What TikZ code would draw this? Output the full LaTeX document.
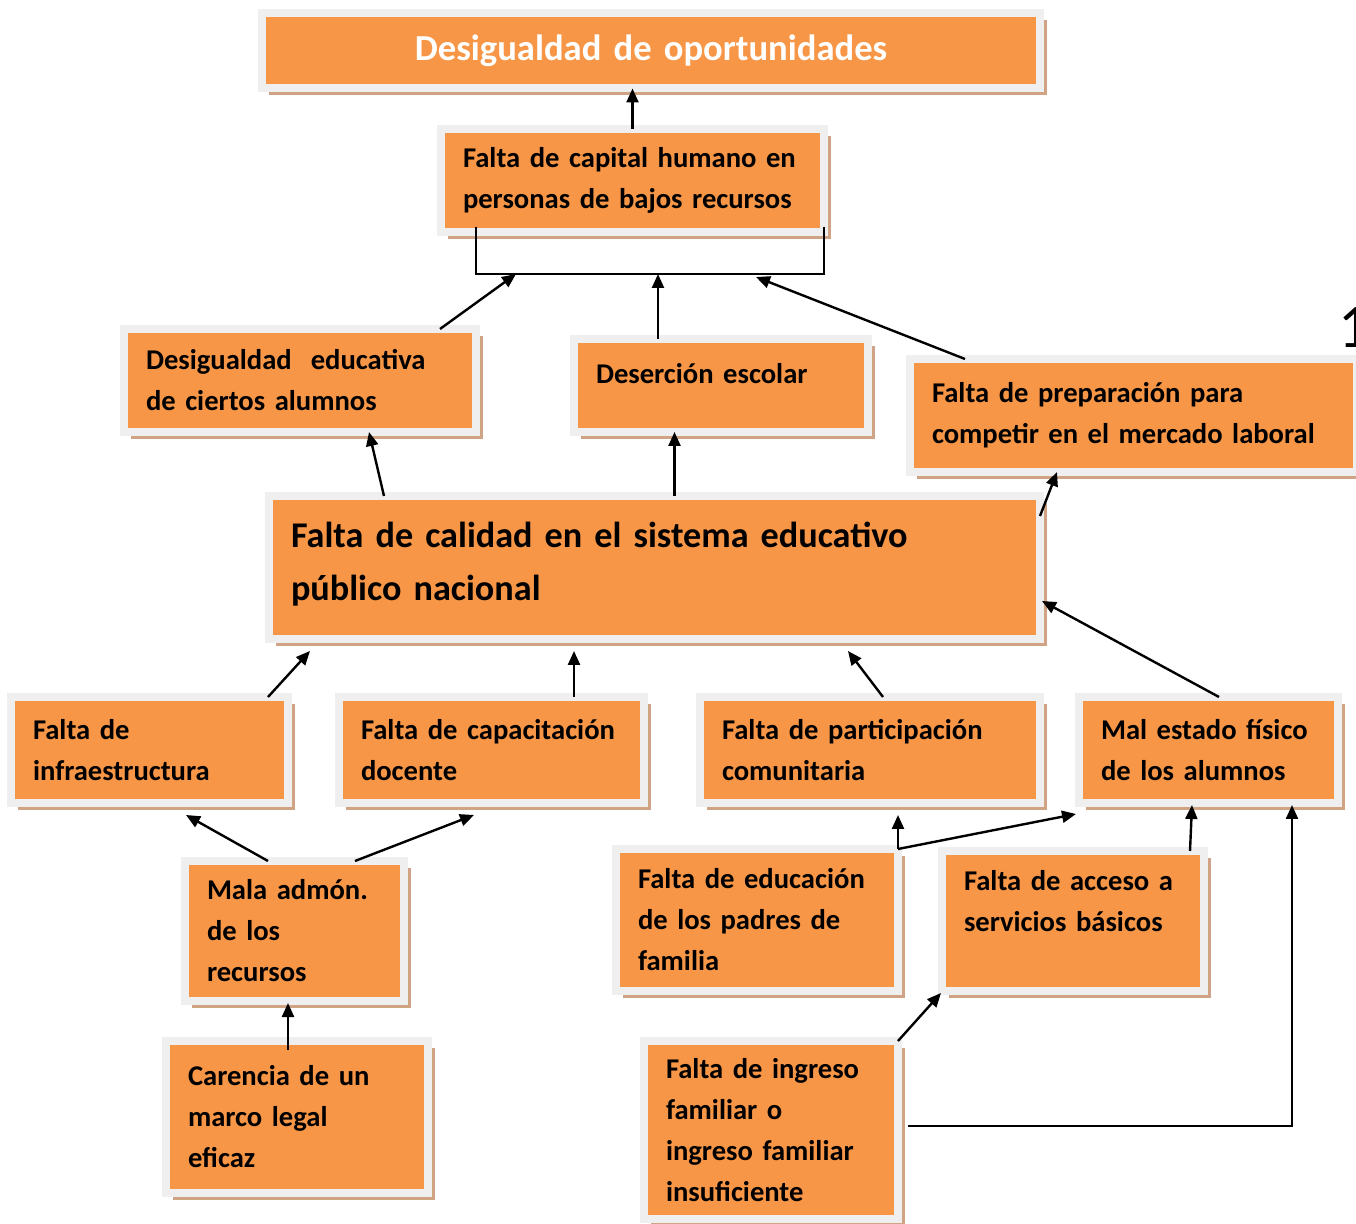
\documentclass[tikz,border=0pt]{standalone}
\usepackage{fontspec}
\newfontfamily\calfont{Carlito}
\usetikzlibrary{arrows.meta,shadows}
\definecolor{boxorange}{HTML}{F79646}
\definecolor{framegray}{HTML}{EFEFEF}
\definecolor{shadowtan}{HTML}{D0A384}
\begin{document}
\begin{tikzpicture}[x=0.5pt, y=-0.5pt,
            box/.style={draw=framegray, line width=4pt, fill=boxorange, inner xsep=11pt, inner ysep=0pt, outer sep=0pt,
                align=left, font=\calfont\bfseries\fontsize{14.3}{20.5}\selectfont,
                general shadow={fill=shadowtan, shadow xshift=3.5pt, shadow yshift=-3.5pt}},
            arr/.style={line width=1.2pt, -{Triangle[length=7pt,width=6pt]}},
            bracket/.style={line width=1pt}]

            \useasboundingbox (0,0) rectangle (1356,1224);

            \node[box, align=center, text width=367pt, minimum height=37.5pt, text=white,
                font=\calfont\bfseries\fontsize{18.3}{22}\selectfont] (title) at (651,51) {Desigualdad de oportunidades};

            \node[box, text width=169.5pt, minimum height=51.5pt] (capital) at (632.5,180.5) {Falta de capital humano en\\personas de bajos recursos};

            \node[box, text width=154pt, minimum height=51.5pt] (desigedu) at (300,380.5) {Desigualdad~~educativa\\de ciertos alumnos};
            \node[box, text width=125pt, minimum height=46.5pt] (desercion) at (721,385.5) {Deserción escolar\\[-8pt]~};
            \node[box, text width=201.5pt, minimum height=56.5pt] (preparacion) at (1133.5,415.5) {Falta de preparación para\\competir en el mercado laboral};

            \node[box, text width=363.5pt, minimum height=71.5pt,
                font=\calfont\bfseries\fontsize{18.1}{26.5}\selectfont] (calidad) at (654.5,567.5) {Falta de calidad en el sistema educativo\\público nacional\\[-20pt]~};

            \node[box, text width=116.5pt, minimum height=53pt] (infra) at (149.5,750) {Falta de\\infraestructura};
            \node[box, text width=130.5pt, minimum height=53pt] (capacitacion) at (491.5,750) {Falta de capacitación\\docente};
            \node[box, text width=148pt, minimum height=53pt] (participacion) at (870,750) {Falta de participación\\comunitaria};
            \node[box, text width=107.5pt, minimum height=53pt] (estado) at (1208.5,750) {Mal estado físico\\de los alumnos};

            \node[box, text width=87.5pt, minimum height=70pt] (admon) at (294.5,931) {Mala admón.\\de los\\recursos};
            \node[box, text width=119pt, minimum height=71pt] (padres) at (757,920) {Falta de educación\\de los padres de\\familia};
            \node[box, text width=109pt, minimum height=70pt] (acceso) at (1073,921) {Falta de acceso a\\servicios básicos\\~};

            \node[box, text width=109pt, minimum height=76pt] (carencia) at (297,1117) {Carencia de un\\marco legal\\eficaz};
            \node[box, text width=105pt, minimum height=89pt] (ingreso) at (771,1130) {Falta de ingreso\\familiar o\\ingreso familiar\\insuficiente};

            \node[anchor=base west, inner sep=0pt, font=\calfont\fontsize{31}{31}\selectfont] (uno) at (1338,348) {1};

            \draw[arr] (capital.north) -- (capital.north |- title.south);

            \coordinate (brL) at ([xshift=17.5pt,yshift=-21pt]capital.south west);
            \coordinate (brR) at ([yshift=-21pt]capital.south east);
            \draw[bracket] ([xshift=17.5pt,yshift=2.5pt]capital.south west) -- (brL) -- (brR) -- ([yshift=2.5pt]capital.south east);

            \draw[arr] ([xshift=70pt]desigedu.north) -- ([xshift=20pt]brL);
            \draw[arr] ([xshift=-31.5pt]desercion.north) -- ([xshift=-31.5pt]desercion.north |- brL);
            \draw[arr] ([xshift=27.5pt]preparacion.north west) -- ([xshift=-34pt,yshift=-1.5pt]brR);

            \draw[arr] ([xshift=57.5pt]calidad.north west) -- ([xshift=122.5pt]desigedu.south west);
            \draw[arr] ([xshift=10pt]calidad.north) -- ([xshift=10pt]calidad.north |- desercion.south);
            \draw[arr] ([yshift=-10pt]calidad.north east) -- ([xshift=73.5pt]preparacion.south west);

            \draw[arr] ([xshift=-10pt]infra.north east) -- ([xshift=20.5pt,yshift=-6pt]calidad.south west);
            \draw[arr] ([xshift=41.25pt]capacitacion.north) -- ([xshift=41.25pt,yshift=-6pt]capacitacion.north |- calidad.south);
            \draw[arr] ([xshift=6.5pt]participacion.north) -- ([xshift=96.75pt,yshift=-6pt]calidad.south);
            \draw[arr] ([xshift=5.25pt]estado.north) -- ([xshift=1pt,yshift=-16.75pt]calidad.east);

            \draw[arr] ([xshift=-13.25pt]admon.north) -- ([xshift=18.25pt,yshift=-6pt]infra.south);
            \draw[arr] ([xshift=30.25pt]admon.north) -- ([xshift=-8.75pt,yshift=-6pt]capacitacion.south);

            \draw[arr] (padres.north east) -- ([yshift=-6pt]padres.north east |- participacion.south);
            \draw[arr] (padres.north east) -- ([xshift=-1.5pt,yshift=-5.5pt]estado.south west);
            \draw[arr] ([xshift=-7pt]acceso.north east) -- ([xshift=-8.25pt,yshift=-1pt]estado.south);

            \draw[arr] ([xshift=-4.5pt,yshift=-4.5pt]carencia.north) -- ([xshift=-4.5pt,yshift=-1pt]carencia.north |- admon.south);
            \draw[arr] (ingreso.north east) -- ([xshift=-0.5pt,yshift=-1pt]acceso.south west);
            \draw[arr] ([xshift=5pt,yshift=2pt]ingreso.east) -| ([xshift=-23pt,yshift=-1pt]estado.south east);

\end{tikzpicture}
\end{document}
